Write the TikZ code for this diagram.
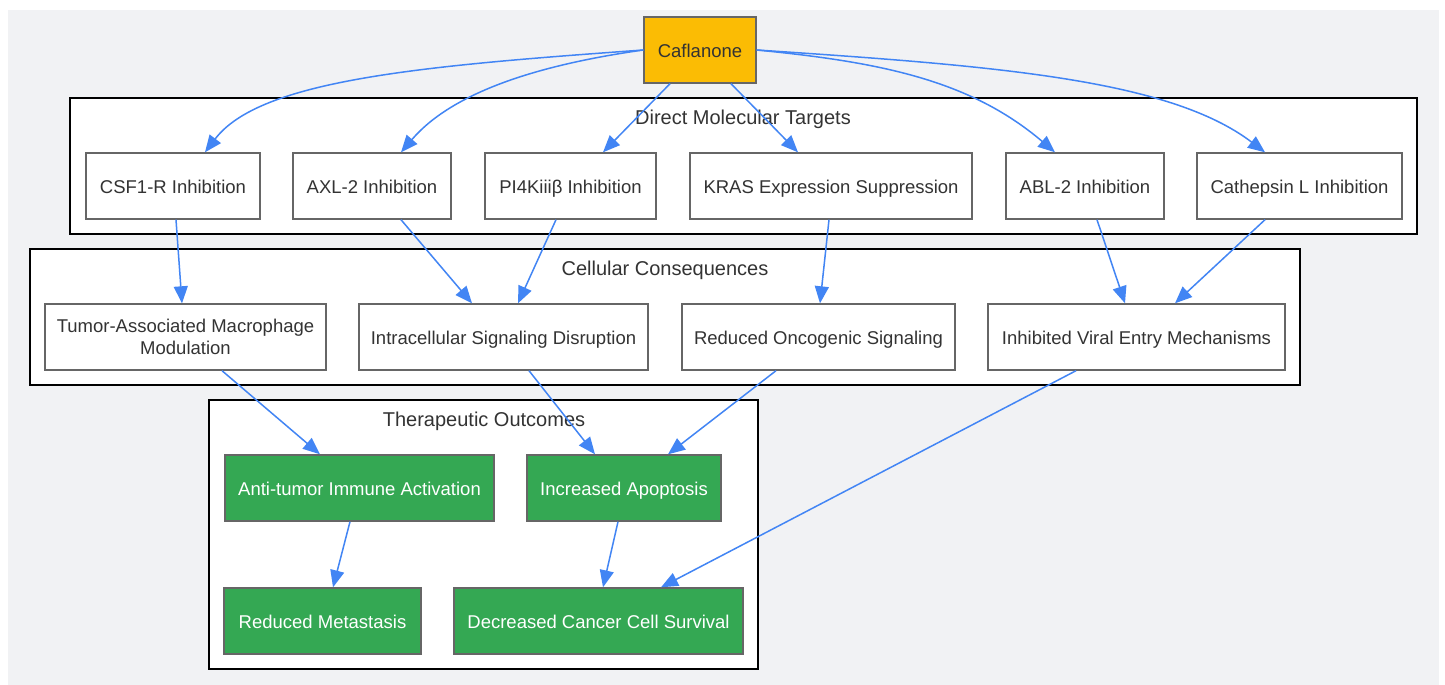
\documentclass[tikz,border=0pt]{standalone}
\usepackage{fontspec}
\setmainfont{Liberation Sans}
\usetikzlibrary{arrows.meta}
\definecolor{bg}{HTML}{F1F2F4}
\definecolor{txt}{HTML}{333333}
\definecolor{nodeborder}{HTML}{666666}
\definecolor{edgeblue}{HTML}{4285F4}
\definecolor{gold}{HTML}{FBBC04}
\definecolor{green}{HTML}{34A853}
\tikzset{
  basebox/.style={draw=nodeborder, line width=1.4pt, fill=white, text=txt, font=\fontsize{18.5}{21.5}\selectfont, align=center, inner sep=0pt, minimum height=66pt},
  box/.style={basebox, text height=16pt, text depth=1pt},
  gbox/.style={box, fill=green, text=white},
  ybox/.style={box, fill=gold},
  cluster/.style={draw=black, line width=1.5pt, fill=white},
  clabel/.style={text=txt, font=\fontsize{20}{24}\selectfont, inner sep=0pt},
  edge/.style={draw=edgeblue, line width=1.5pt, -{Triangle[length=17pt,width=14pt]}},
}
\begin{document}
\begin{tikzpicture}[x=1pt,y=-1pt]
\useasboundingbox (0,0) rectangle (1445,685);
\fill[bg] (8,10) rectangle (1439,685);
% clusters
\draw[cluster] (70,98) rectangle (1417,234);
\node[clabel] (c1) at (743,119) {Direct Molecular Targets};
\draw[cluster] (30,249) rectangle (1300,385);
\node[clabel] (c2) at (665,270) {Cellular Consequences};
\draw[cluster] (209,400) rectangle (758,669);
\node[clabel] (c3) at (484,421) {Therapeutic Outcomes};
% nodes
\node[ybox, minimum width=112pt] (caf) at (700,50) {Caflanone};
\node[box, minimum width=174pt] (csf) at (173,186) {CSF1-R Inhibition};
\node[box, minimum width=158pt] (axl) at (372,186) {AXL-2 Inhibition};
\node[box, minimum width=171pt] (pi4) at (570.5,186) {PI4Kiiiβ Inhibition};
\node[box, minimum width=282pt] (kras) at (831,186) {KRAS Expression Suppression};
\node[box, minimum width=158pt] (abl) at (1085,186) {ABL-2 Inhibition};
\node[box, minimum width=205pt] (cat) at (1299.5,186) {Cathepsin L Inhibition};
\node[basebox, minimum width=281pt] (tam) at (185.5,337) {\raisebox{-1pt}{Tumor-Associated Macrophage}\\\raisebox{-1pt}{Modulation}};
\node[box, minimum width=289pt] (isd) at (503.5,337) {Intracellular Signaling Disruption};
\node[box, minimum width=273pt] (ros) at (818.5,337) {Reduced Oncogenic Signaling};
\node[box, minimum width=297pt] (ive) at (1136.5,337) {Inhibited Viral Entry Mechanisms};
\node[gbox, minimum width=269pt] (ati) at (359.5,488) {Anti-tumor Immune Activation};
\node[gbox, minimum width=194pt] (apo) at (624,488) {Increased Apoptosis};
\node[gbox, minimum width=197pt] (met) at (322.5,621) {Reduced Metastasis};
\node[gbox, minimum width=289pt] (dcs) at (598.5,621) {Decreased Cancer Cell Survival};
% edges
\draw[edge] (caf.west) .. controls (420,66) and (260,80) .. (csf.north -| 205,0);
\draw[edge] (caf.west) .. controls (530,66) and (450,95) .. (axl.north -| 401,0);
\draw[edge] (caf.south -| 670,0) -- (pi4.north -| 603,0);
\draw[edge] (caf.south -| 731,0) -- (kras.north -| 798,0);
\draw[edge] (caf.east) .. controls (880,62) and (970,80) .. (abl.north -| 1055,0);
\draw[edge] (caf.east) .. controls (1000,66) and (1170,80) .. (cat.north -| 1265,0);
\draw[edge] (csf.south -| 176,0) -- (tam.north -| 182,0);
\draw[edge] (axl.south -| 401,0) -- (isd.north -| 472,0);
\draw[edge] (pi4.south -| 556,0) -- (isd.north -| 518,0);
\draw[edge] (kras.south -| 829,0) -- (ros.north -| 820,0);
\draw[edge] (abl.south -| 1097,0) -- (ive.north -| 1125,0);
\draw[edge] (cat.south -| 1265,0) -- (ive.north -| 1175,0);
\draw[edge] (tam.south -| 222,0) -- (ati.north -| 320,0);
\draw[edge] (isd.south -| 529,0) -- (apo.north -| 595,0);
\draw[edge] (ros.south -| 776,0) -- (apo.north -| 668,0);
\draw[edge] (ive.south -| 1076,0) -- (dcs.north -| 661,0);
\draw[edge] (ati.south -| 350,0) -- (met.north -| 333,0);
\draw[edge] (apo.south -| 618,0) -- (dcs.north -| 603,0);
\end{tikzpicture}
\end{document}
